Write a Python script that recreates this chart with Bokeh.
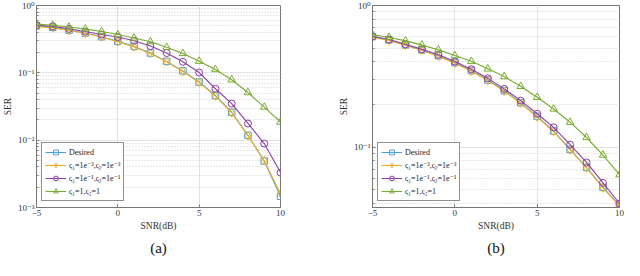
from bokeh.plotting import figure
from bokeh.layouts import row
from bokeh.models import FixedTicker, CustomJSTickFormatter, Range1d, LinearAxis
from bokeh.embed import file_html
from bokeh.resources import INLINE

# ---------------- data ----------------
snr = [-5, -4, -3, -2, -1, 0, 1, 2, 3, 4, 5, 6, 7, 8, 9, 10]

labels = ["Desired",
          "ς₁=1e⁻³,ς₂=1e⁻³",
          "ς₁=1e⁻¹,ς₂=1e⁻¹",
          "ς₁=1,ς₂=1"]

# panel (a)
ser_a_desired = [0.50, 0.475, 0.43, 0.39, 0.344, 0.294, 0.247, 0.197, 0.148, 0.107,
                 0.073, 0.046, 0.026, 0.0118, 0.0049, 0.00147]
ser_a_c3 = [0.49, 0.465, 0.425, 0.385, 0.34, 0.29, 0.243, 0.194, 0.146, 0.105,
            0.072, 0.045, 0.0255, 0.0116, 0.0050, 0.0016]
ser_a_c1 = [0.51, 0.49, 0.45, 0.41, 0.37, 0.34, 0.30, 0.25, 0.197, 0.146,
            0.101, 0.058, 0.035, 0.0177, 0.0089, 0.0033]
ser_a_c0 = [0.53, 0.51, 0.48, 0.45, 0.41, 0.37, 0.33, 0.29, 0.24, 0.194,
            0.149, 0.112, 0.079, 0.051, 0.031, 0.0186]

# panel (b)
ser_b_desired = [0.603, 0.572, 0.527, 0.486, 0.442, 0.395, 0.347, 0.298, 0.251, 0.206,
                 0.165, 0.130, 0.0965, 0.072, 0.052, 0.0387]
ser_b_c3 = [0.597, 0.566, 0.522, 0.481, 0.438, 0.391, 0.343, 0.295, 0.248, 0.204,
            0.163, 0.129, 0.0955, 0.0713, 0.0515, 0.0383]
ser_b_c1 = [0.607, 0.575, 0.533, 0.491, 0.449, 0.402, 0.355, 0.306, 0.258, 0.213,
            0.172, 0.138, 0.104, 0.078, 0.056, 0.040]
ser_b_c0 = [0.621, 0.597, 0.563, 0.527, 0.486, 0.443, 0.404, 0.357, 0.315, 0.269,
            0.225, 0.186, 0.150, 0.117, 0.088, 0.064]

x_ticks = [-5, 0, 5, 10]
y_range_a = (0.001, 1.0)
y_range_b = (0.0375, 1.0)
y_major_a = [0.001, 0.01, 0.1, 1.0]
y_major_b = [0.1, 1.0]

colors = ["#4a9fd8", "#edb120", "#8e3fa3", "#77ac30"]
markers = ["square", "diamond", "circle", "triangle"]
marker_sizes = [6.5, 8.5, 7, 7.5]

FONT = "Liberation Serif, DejaVu Serif"
AXIS_COL = "#777777"

log_fmt = CustomJSTickFormatter(code="""
const e = Math.round(Math.log10(tick));
const sup = {'-':'\u207b','0':'\u2070','1':'\u00b9','2':'\u00b2','3':'\u00b3'};
return '10' + String(e).split('').map(c => sup[c]).join('');
""")


def minor_for(lo, majors):
    out = []
    for m in majors:
        for k in range(2, 10):
            v = m * k / 10.0
            if v >= lo * 0.999:
                out.append(v)
    return out


def style_axis(ax):
    ax.axis_line_color = AXIS_COL
    ax.major_tick_line_color = AXIS_COL
    ax.minor_tick_line_color = AXIS_COL
    ax.major_tick_in = 3
    ax.major_tick_out = 0
    ax.minor_tick_in = 2
    ax.minor_tick_out = 0
    ax.major_label_text_font = FONT
    ax.major_label_text_font_size = "9px"
    ax.major_label_text_color = "#333333"
    ax.major_label_standoff = 2
    ax.axis_label_text_font = FONT
    ax.axis_label_text_font_size = "9.5px"
    ax.axis_label_text_font_style = "normal"
    ax.axis_label_text_color = "#333333"
    ax.axis_label_standoff = 2


def make_panel(width, border_left, border_right, yr, majors, series, caption):
    p = figure(width=width, height=260, x_range=Range1d(-5, 10),
               y_range=Range1d(*yr), y_axis_type="log",
               output_backend="svg", toolbar_location=None,
               min_border_left=border_left, min_border_right=border_right,
               min_border_top=5, min_border_bottom=53)

    p.outline_line_color = AXIS_COL
    p.background_fill_color = "white"

    yt = FixedTicker(ticks=majors, minor_ticks=minor_for(yr[0], majors))
    xt = FixedTicker(ticks=x_ticks)

    p.xaxis.ticker = xt
    p.yaxis.ticker = yt
    p.yaxis.formatter = log_fmt
    p.xaxis.axis_label = "SNR(dB)"
    p.yaxis.axis_label = "SER"
    style_axis(p.xaxis[0])
    style_axis(p.yaxis[0])

    # caption "(a)" / "(b)" as label of a tick-less axis beneath the x axis
    cap = LinearAxis(ticker=FixedTicker(ticks=[]), axis_label=caption)
    cap.axis_line_color = None
    cap.major_tick_line_color = None
    cap.minor_tick_line_color = None
    cap.axis_label_text_font = FONT
    cap.axis_label_text_font_size = "15px"
    cap.axis_label_text_font_style = "normal"
    cap.axis_label_text_color = "#111111"
    cap.axis_label_standoff = 6
    p.add_layout(cap, "below")

    p.xgrid.ticker = xt
    p.ygrid.ticker = yt
    p.xgrid.grid_line_color = "#e3e3e3"
    p.ygrid.grid_line_color = "#e3e3e3"
    p.ygrid.minor_grid_line_color = "#d0d0d0"
    p.ygrid.minor_grid_line_dash = "1 2"

    for ys, c, m, s, lab in zip(series, colors, markers, marker_sizes, labels):
        p.line(snr, ys, line_color=c, line_width=1.1, legend_label=lab)
        p.scatter(snr, ys, marker=m, size=s, line_color=c, line_width=1,
                  fill_color=None, legend_label=lab)

    lg = p.legend[0]
    lg.location = (5, 6)
    lg.margin = 0
    lg.padding = 3
    lg.spacing = 1
    lg.glyph_width = 21
    lg.glyph_height = 12
    lg.label_height = 12
    lg.label_standoff = 3
    lg.label_text_font = FONT
    lg.label_text_font_size = "8px"
    lg.label_text_color = "#222222"
    lg.border_line_color = "#222222"
    lg.border_line_width = 1
    lg.background_fill_color = "white"
    lg.background_fill_alpha = 1.0
    return p


pa = make_panel(300, 27, 20, y_range_a, y_major_a,
                [ser_a_desired, ser_a_c3, ser_a_c1, ser_a_c0], "(a)")
pb = make_panel(324, 72, 5, y_range_b, y_major_b,
                [ser_b_desired, ser_b_c3, ser_b_c1, ser_b_c0], "(b)")

layout = row(pa, pb)
open("out.html", "w").write(file_html(layout, INLINE))
